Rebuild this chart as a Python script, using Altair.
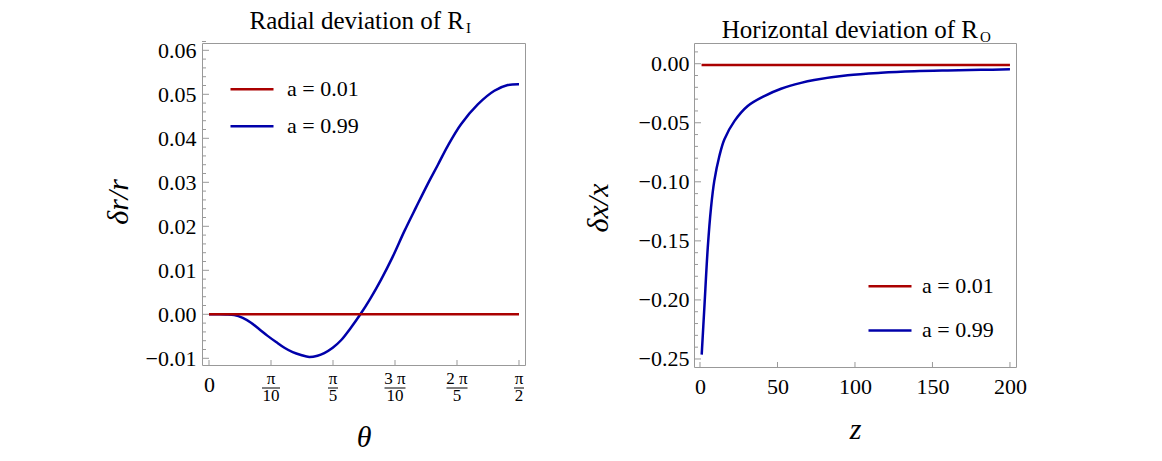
import math
import altair as alt
import pandas as pd

PI = math.pi
FONT = "Liberation Serif"
RED = "#aa0000"
BLUE = "#0000aa"
GRAY = "#999999"

series_names = ["a = 0.01", "a = 0.99"]

# ---------------- left panel ----------------
left_title = "Radial deviation of R"
left_sub = "I"
left_ytitle = "δr/r"
left_xtitle = "θ"

theta_099 = [0.0, 0.044, 0.086, 0.128, 0.171, 0.213, 0.255, 0.297, 0.340, 0.382,
             0.424, 0.466, 0.508, 0.550, 0.584, 0.627, 0.669, 0.718, 0.767, 0.819,
             0.872, 0.930, 0.990, 1.049, 1.108, 1.160, 1.210, 1.277, 1.362, 1.446,
             1.514, PI / 2]
dr_099 = [0.0, 0.0, -0.00003, -0.00016, -0.0008, -0.0019, -0.0034, -0.0049, -0.0063,
          -0.0076, -0.0086, -0.00925, -0.0097, -0.0094, -0.0088, -0.0076, -0.0059,
          -0.0031, 0.0, 0.0037, 0.0079, 0.0130, 0.0189, 0.0243, 0.0296, 0.0340,
          0.0383, 0.0432, 0.0477, 0.0508, 0.0521, 0.0523]
theta_001 = [0.0, PI / 4, PI / 2]
dr_001 = [0.0, 0.0, 0.0]

theta_ticks = [0.0, PI / 10, PI / 5, 3 * PI / 10, 2 * PI / 5, PI / 2]
theta_num = ["π", "π", "3 π", "2 π", "π"]
theta_den = ["10", "5", "10", "5", "2"]
left_y_major = [-0.01, 0.0, 0.01, 0.02, 0.03, 0.04, 0.05, 0.06]
left_y_minor = [round(-0.01 + 0.002 * i, 3) for i in range(37) if i % 5 != 0]

# ---------------- right panel ----------------
right_title = "Horizontal deviation of R"
right_sub = "O"
right_ytitle = "δx/x"
right_xtitle = "z"

z_099 = [1.1, 2.8, 5.0, 7.1, 9.2, 12.5, 15.7, 22.2, 30.8, 41.5, 52.3, 65.2, 73.7,
         95.3, 116.8, 138.3, 159.8, 181.3, 200.0]
dx_099 = [-0.2463, -0.2068, -0.156, -0.122, -0.0994, -0.0782, -0.0641, -0.0486,
          -0.0358, -0.0274, -0.0212, -0.0162, -0.0138, -0.0098, -0.0077, -0.0064,
          -0.0057, -0.0052, -0.0048]
z_001 = [1.0, 200.0]
dx_001 = [-0.0011, -0.0011]

z_ticks = [0, 50, 100, 150, 200]
right_y_major = [-0.25, -0.2, -0.15, -0.1, -0.05, 0.0]
right_y_minor = [round(-0.25 + 0.01 * i, 2) for i in range(27) if i % 5 != 0]

# ---------------- geometry ----------------
LW, LH = 323, 322
RW, RH = 322, 324

lx = alt.Scale(domain=[-0.0355, 1.6012], nice=False, zero=False)
ly = alt.Scale(domain=[-0.01152, 0.06166], nice=False, zero=False)
rx = alt.Scale(domain=[-3.87, 203.9], nice=False, zero=False)
ry = alt.Scale(domain=[-0.2568, 0.01753], nice=False, zero=False)

AX = dict(labelFont=FONT, labelFontSize=22, labelColor="black", titleFont=FONT,
          titleFontSize=30, titleFontStyle="italic", titleFontWeight="normal",
          titleColor="black", domain=False, ticks=False, grid=False)

lx_axis = alt.Axis(values=theta_ticks, labelExpr="datum.value == 0 ? '0' : ''",
                   title=left_xtitle, labelBaseline="alphabetic", labelPadding=26,
                   titleY=81, titleBaseline="alphabetic", **AX)
ly_axis = alt.Axis(values=left_y_major, format=".2f", title=None, labelPadding=6, **AX)
rx_axis = alt.Axis(values=z_ticks, format="d", title=right_xtitle,
                   labelBaseline="alphabetic", labelPadding=26, titleY=71,
                   titleBaseline="alphabetic", **AX)
ry_axis = alt.Axis(values=right_y_major, format=".2f", title=None, labelPadding=5, **AX)


def series_df(x1, y1, x0, y0):
    rows = [{"x": a, "y": b, "s": series_names[1]} for a, b in zip(x1, y1)]
    rows += [{"x": a, "y": b, "s": series_names[0]} for a, b in zip(x0, y0)]
    return pd.DataFrame(rows)


def tick_rules(vals, scale, axis, orient, length, h):
    df = pd.DataFrame({orient: vals})
    base = alt.Chart(df).mark_rule(color=GRAY, strokeWidth=1)
    if orient == "y":
        return base.encode(y=alt.Y("y:Q", scale=scale, axis=axis),
                           x=alt.value(0), x2=alt.value(length))
    return base.encode(x=alt.X("x:Q", scale=scale, axis=axis),
                       y=alt.value(h), y2=alt.value(h - length))


def title_layers(main, sub, x_right, base_y):
    df = pd.DataFrame({"t": [main], "u": [sub]})
    t1 = alt.Chart(df).mark_text(font=FONT, fontSize=25, align="right",
                                 baseline="alphabetic", color="black").encode(
        x=alt.value(x_right), y=alt.value(base_y), text="t:N")
    t2 = alt.Chart(df).mark_text(font=FONT, fontSize=15, align="left",
                                 baseline="alphabetic", color="black").encode(
        x=alt.value(x_right + 2), y=alt.value(base_y + 4), text="u:N")
    return [t1, t2]


def ytitle_layer(text, x, y):
    df = pd.DataFrame({"t": [text]})
    return alt.Chart(df).mark_text(font=FONT, fontSize=30, fontStyle="italic",
                                   angle=270, align="center", baseline="middle",
                                   color="black").encode(
        x=alt.value(x), y=alt.value(y), text="t:N")


# ---- left chart ----
left_lines = alt.Chart(series_df(theta_099, dr_099, theta_001, dr_001)).mark_line(
    strokeWidth=2.5, interpolate="catmull-rom").encode(
    x=alt.X("x:Q", scale=lx, axis=lx_axis),
    y=alt.Y("y:Q", scale=ly, axis=ly_axis),
    color=alt.Color("s:N", scale=alt.Scale(domain=series_names, range=[RED, BLUE]),
                    legend=alt.Legend(title=None, orient="none", legendX=27, legendY=23.3,
                                      rowPadding=3, labelOffset=12)),
)

frac_df = pd.DataFrame({"x": theta_ticks[1:], "num": theta_num, "den": theta_den})
frac_num = alt.Chart(frac_df).mark_text(font=FONT, fontSize=17, baseline="alphabetic",
                                        color="black").encode(
    x=alt.X("x:Q", scale=lx, axis=lx_axis), y=alt.value(LH + 19.3), text="num:N")
frac_den = alt.Chart(frac_df).mark_text(font=FONT, fontSize=17, baseline="alphabetic",
                                        color="black").encode(
    x=alt.X("x:Q", scale=lx, axis=lx_axis), y=alt.value(LH + 36), text="den:N")


def frac_bar(expr, half):
    return alt.Chart(frac_df).transform_filter(expr).mark_rule(
        color="black", strokeWidth=1, xOffset=-half, x2Offset=half).encode(
        x=alt.X("x:Q", scale=lx, axis=lx_axis), x2="x:Q", y=alt.value(LH + 23))


bars = [frac_bar("length(datum.num) > 1", 10.5),
        frac_bar("length(datum.num) == 1 && length(datum.den) > 1", 9),
        frac_bar("length(datum.den) == 1 && length(datum.num) == 1", 5)]

left = alt.layer(
    left_lines,
    tick_rules(left_y_minor, ly, ly_axis, "y", 4, LH),
    tick_rules(left_y_major, ly, ly_axis, "y", 7, LH),
    tick_rules(theta_ticks, lx, lx_axis, "x", 5, LH),
    frac_num, frac_den, *bars,
    ytitle_layer(left_ytitle, -83, 159),
    *title_layers(left_title, left_sub, 262, -14),
).properties(width=LW, height=LH)

# ---- right chart ----
right_lines = alt.Chart(series_df(z_099, dx_099, z_001, dx_001)).mark_line(
    strokeWidth=2.5, interpolate="catmull-rom").encode(
    x=alt.X("x:Q", scale=rx, axis=rx_axis),
    y=alt.Y("y:Q", scale=ry, axis=ry_axis),
    color=alt.Color("s:N", scale=alt.Scale(domain=series_names, range=[RED, BLUE]),
                    legend=alt.Legend(title=None, orient="none", legendX=173,
                                      legendY=220.3, rowPadding=10.1, labelOffset=9)),
)

right = alt.layer(
    right_lines,
    tick_rules(right_y_minor, ry, ry_axis, "y", 4, RH),
    tick_rules(right_y_major, ry, ry_axis, "y", 7, RH),
    tick_rules(z_ticks, rx, rx_axis, "x", 5, RH),
    ytitle_layer(right_ytitle, -95, 165),
    *title_layers(right_title, right_sub, 284, -5.3),
).properties(width=RW, height=RH)

chart = alt.hconcat(left, right, spacing=169, bounds="flush").resolve_scale(
    color="independent").resolve_legend(color="independent").properties(
    padding={"left": 95, "top": 0, "right": 5, "bottom": 5}
).configure_view(stroke=GRAY, strokeWidth=1).configure_axis(
    domain=False, ticks=False, grid=False, labelFont=FONT, labelFontSize=22,
    labelColor="black", titleFont=FONT, titleFontSize=30, titleFontStyle="italic",
    titleFontWeight="normal", titleColor="black"
).configure_legend(
    padding=0, labelFont=FONT, labelFontSize=22, labelColor="black",
    symbolType="stroke", symbolStrokeWidth=2.5, symbolSize=1849
)

chart.save("out.html", embed_options={"renderer": "svg", "actions": False})
